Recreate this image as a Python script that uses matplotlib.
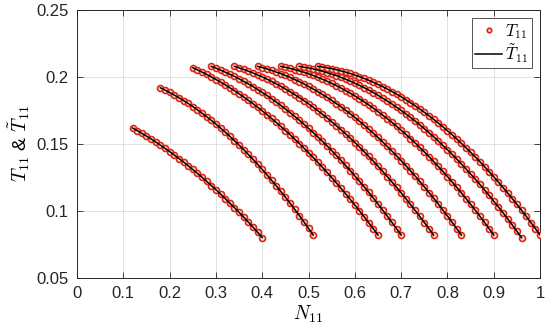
import matplotlib
matplotlib.use('Agg')
import matplotlib.pyplot as plt
from matplotlib.ticker import FormatStrFormatter

# common N11 grid (step 0.01)
n_grid = [0.12, 0.13, 0.14, 0.15, 0.16, 0.17, 0.18, 0.19, 0.20, 0.21,
          0.22, 0.23, 0.24, 0.25, 0.26, 0.27, 0.28, 0.29, 0.30, 0.31,
          0.32, 0.33, 0.34, 0.35, 0.36, 0.37, 0.38, 0.39, 0.40, 0.41,
          0.42, 0.43, 0.44, 0.45, 0.46, 0.47, 0.48, 0.49, 0.50, 0.51,
          0.52, 0.53, 0.54, 0.55, 0.56, 0.57, 0.58, 0.59, 0.60, 0.61,
          0.62, 0.63, 0.64, 0.65, 0.66, 0.67, 0.68, 0.69, 0.70, 0.71,
          0.72, 0.73, 0.74, 0.75, 0.76, 0.77, 0.78, 0.79, 0.80, 0.81,
          0.82, 0.83, 0.84, 0.85, 0.86, 0.87, 0.88, 0.89, 0.90, 0.91,
          0.92, 0.93, 0.94, 0.95, 0.96, 0.97, 0.98, 0.99, 1.00]

# first N11 of each curve
starts = [0.12, 0.18, 0.25, 0.29, 0.34, 0.39, 0.44, 0.48, 0.52]

t1 = [0.1620, 0.1600, 0.1580, 0.1559, 0.1538, 0.1515, 0.1492, 0.1468, 0.1444, 0.1418,
      0.1392, 0.1366, 0.1338, 0.1310, 0.1281, 0.1252, 0.1221, 0.1190, 0.1159, 0.1126,
      0.1093, 0.1059, 0.1025, 0.0990, 0.0954, 0.0917, 0.0880, 0.0841, 0.0802]
t2 = [0.1920, 0.1903, 0.1885, 0.1866, 0.1846, 0.1825, 0.1803, 0.1780, 0.1755, 0.1730,
      0.1704, 0.1677, 0.1649, 0.1619, 0.1589, 0.1558, 0.1525, 0.1492, 0.1458, 0.1422,
      0.1386, 0.1349, 0.1310, 0.1271, 0.1230, 0.1189, 0.1146, 0.1103, 0.1058, 0.1013,
      0.0966, 0.0918, 0.0870, 0.0820]
t3 = [0.2070, 0.2054, 0.2037, 0.2020, 0.2001, 0.1982, 0.1962, 0.1942, 0.1920, 0.1898,
      0.1875, 0.1851, 0.1826, 0.1801, 0.1775, 0.1748, 0.1720, 0.1691, 0.1662, 0.1632,
      0.1601, 0.1570, 0.1537, 0.1504, 0.1470, 0.1435, 0.1400, 0.1363, 0.1326, 0.1288,
      0.1250, 0.1210, 0.1170, 0.1129, 0.1087, 0.1045, 0.1001, 0.0957, 0.0912, 0.0867,
      0.0820]
t4 = [0.2080, 0.2067, 0.2052, 0.2037, 0.2021, 0.2005, 0.1987, 0.1968, 0.1949, 0.1929,
      0.1907, 0.1885, 0.1863, 0.1839, 0.1814, 0.1789, 0.1762, 0.1735, 0.1707, 0.1678,
      0.1648, 0.1617, 0.1586, 0.1553, 0.1520, 0.1486, 0.1451, 0.1415, 0.1378, 0.1340,
      0.1302, 0.1262, 0.1222, 0.1181, 0.1139, 0.1096, 0.1052, 0.1007, 0.0962, 0.0915,
      0.0868, 0.0820]
t5 = [0.2080, 0.2069, 0.2057, 0.2044, 0.2031, 0.2016, 0.2001, 0.1985, 0.1968, 0.1950,
      0.1931, 0.1911, 0.1891, 0.1869, 0.1847, 0.1824, 0.1800, 0.1775, 0.1749, 0.1722,
      0.1695, 0.1666, 0.1637, 0.1607, 0.1576, 0.1544, 0.1511, 0.1477, 0.1443, 0.1407,
      0.1371, 0.1334, 0.1296, 0.1257, 0.1217, 0.1177, 0.1135, 0.1093, 0.1049, 0.1005,
      0.0960, 0.0914, 0.0868, 0.0820]
t6 = [0.2080, 0.2071, 0.2061, 0.2050, 0.2038, 0.2026, 0.2012, 0.1998, 0.1982, 0.1966,
      0.1949, 0.1930, 0.1911, 0.1891, 0.1870, 0.1849, 0.1826, 0.1802, 0.1778, 0.1752,
      0.1726, 0.1699, 0.1670, 0.1641, 0.1611, 0.1580, 0.1549, 0.1516, 0.1482, 0.1448,
      0.1412, 0.1376, 0.1339, 0.1300, 0.1261, 0.1221, 0.1180, 0.1138, 0.1096, 0.1052,
      0.1007, 0.0962, 0.0916, 0.0868, 0.0820]
t7 = [0.2080, 0.2073, 0.2065, 0.2056, 0.2046, 0.2036, 0.2024, 0.2012, 0.1998, 0.1984,
      0.1969, 0.1953, 0.1936, 0.1918, 0.1899, 0.1880, 0.1859, 0.1837, 0.1815, 0.1792,
      0.1768, 0.1742, 0.1716, 0.1689, 0.1662, 0.1633, 0.1603, 0.1573, 0.1541, 0.1509,
      0.1475, 0.1441, 0.1406, 0.1370, 0.1333, 0.1296, 0.1257, 0.1217, 0.1177, 0.1135,
      0.1093, 0.1050, 0.1006, 0.0961, 0.0915, 0.0868, 0.0820]
t8 = [0.2080, 0.2074, 0.2068, 0.2061, 0.2053, 0.2043, 0.2033, 0.2022, 0.2011, 0.1998,
      0.1984, 0.1970, 0.1954, 0.1938, 0.1921, 0.1903, 0.1884, 0.1864, 0.1843, 0.1821,
      0.1799, 0.1775, 0.1751, 0.1725, 0.1699, 0.1672, 0.1644, 0.1615, 0.1585, 0.1555,
      0.1523, 0.1490, 0.1457, 0.1423, 0.1388, 0.1351, 0.1314, 0.1276, 0.1238, 0.1198,
      0.1157, 0.1116, 0.1073, 0.1030, 0.0986, 0.0941, 0.0895, 0.0848, 0.0800]
t9 = [0.2080, 0.2075, 0.2069, 0.2063, 0.2055, 0.2046, 0.2037, 0.2027, 0.2015, 0.2003,
      0.1990, 0.1976, 0.1961, 0.1945, 0.1929, 0.1911, 0.1892, 0.1873, 0.1853, 0.1831,
      0.1809, 0.1786, 0.1762, 0.1737, 0.1711, 0.1685, 0.1657, 0.1629, 0.1599, 0.1569,
      0.1538, 0.1505, 0.1472, 0.1438, 0.1404, 0.1368, 0.1331, 0.1293, 0.1255, 0.1216,
      0.1175, 0.1134, 0.1092, 0.1049, 0.1005, 0.0960, 0.0914, 0.0868, 0.0820]

t_curves = [t1, t2, t3, t4, t5, t6, t7, t8, t9]

plt.rcParams['font.family'] = ['Liberation Sans', 'DejaVu Sans']
plt.rcParams['mathtext.fontset'] = 'cm'

fig = plt.figure(figsize=(5.5, 3.27), dpi=100)
ax = fig.add_axes([0.140, 0.150, 0.842, 0.819])

for k, (s, t) in enumerate(zip(starts, t_curves)):
    i = int(round((s - n_grid[0]) / 0.01))
    n = n_grid[i:i + len(t)]
    ax.plot(n, t, 'o', ms=4.3, mew=1.2, mec='#dc2418', mfc='#f7e3c8',
            zorder=3, label=r'$T_{11}$' if k == 0 else None)
    ax.plot(n, t, '-', color='black', lw=1.1, zorder=4,
            label=r'$\tilde{T}_{11}$' if k == 0 else None)

ax.set_xlim(0, 1)
ax.set_ylim(0.05, 0.25)
ax.set_xticks([0, 0.1, 0.2, 0.3, 0.4, 0.5, 0.6, 0.7, 0.8, 0.9, 1])
ax.set_yticks([0.05, 0.1, 0.15, 0.2, 0.25])
ax.xaxis.set_major_formatter(FormatStrFormatter('%g'))
ax.yaxis.set_major_formatter(FormatStrFormatter('%g'))
ax.tick_params(direction='in', length=4, width=0.6, colors='#262626',
               labelsize=12, top=True, right=True, pad=6)
for sp in ax.spines.values():
    sp.set_color('#262626')
    sp.set_linewidth(0.7)
ax.grid(True, color='#dcdcdc', linewidth=0.6)
ax.set_axisbelow(True)

ax.set_xlabel(r'$N_{11}$', fontsize=14, labelpad=2)
ax.set_ylabel(r'$T_{11}$ & $\tilde{T}_{11}$', fontsize=14, labelpad=3)

leg = ax.legend(loc='upper right', fontsize=12, frameon=True, fancybox=False,
                handlelength=1.6, handletextpad=0.2, borderpad=0.2,
                labelspacing=0.1, borderaxespad=0.5, markerscale=0.75)
leg.get_frame().set_edgecolor('#262626')
leg.get_frame().set_linewidth(0.7)

fig.savefig('out.png', dpi=100)
